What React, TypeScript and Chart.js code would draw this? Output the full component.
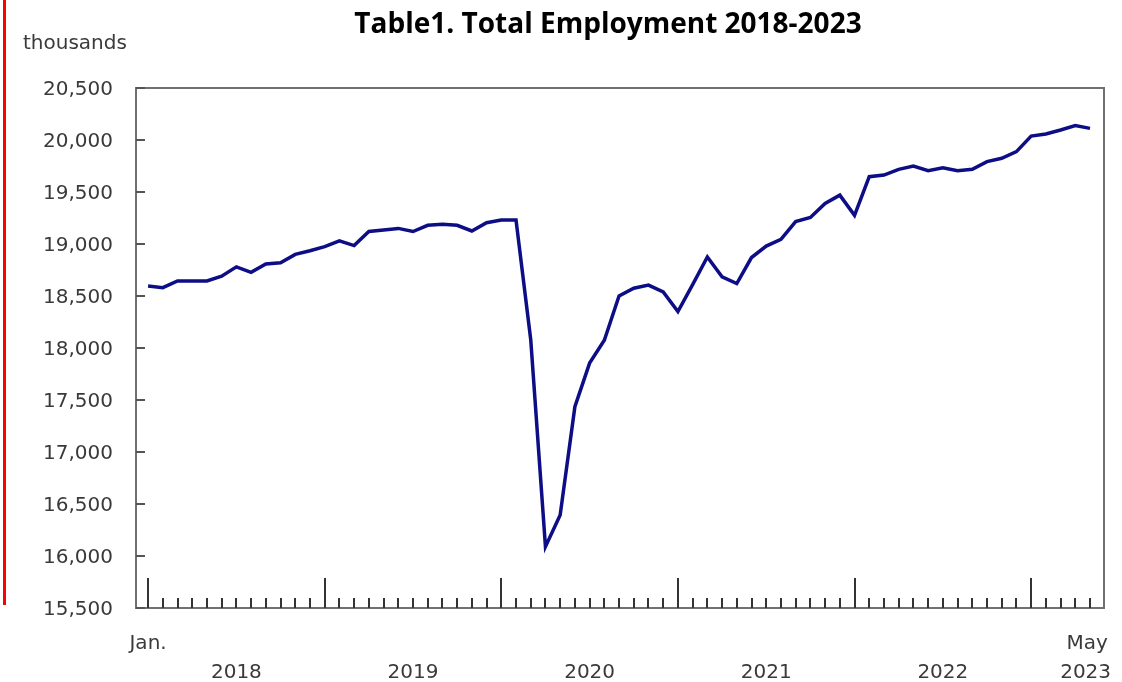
import { useEffect, useRef } from 'react';
import { Chart, registerables } from 'chart.js';

Chart.register(...registerables);

const years = ['2018', '2019', '2020', '2021', '2022', '2023'];
const monthNames = ['Jan.', 'Feb.', 'Mar.', 'Apr.', 'May', 'June', 'July', 'Aug.', 'Sept.', 'Oct.', 'Nov.', 'Dec.'];
const categories: string[] = [];
years.forEach((yr) => monthNames.forEach((m) => categories.push(m + ' ' + yr)));
categories.splice(65);

const employment2018 = [18596, 18580, 18645, 18645, 18645, 18690, 18780, 18728, 18808, 18820, 18900, 18935];
const employment2019 = [18975, 19030, 18985, 19120, 19135, 19150, 19120, 19180, 19190, 19180, 19125, 19205];
const employment2020 = [19230, 19230, 18080, 16090, 16395, 17435, 17855, 18075, 18500, 18575, 18605, 18540];
const employment2021 = [18350, 18610, 18875, 18685, 18620, 18870, 18980, 19045, 19215, 19255, 19390, 19470];
const employment2022 = [19275, 19647, 19663, 19718, 19750, 19705, 19734, 19705, 19718, 19792, 19824, 19888];
const employment2023 = [20038, 20058, 20096, 20138, 20112];

const employment = [
  ...employment2018,
  ...employment2019,
  ...employment2020,
  ...employment2021,
  ...employment2022,
  ...employment2023,
];

const yTicks = [15500, 16000, 16500, 17000, 17500, 18000, 18500, 19000, 19500, 20000, 20500];
const majorTickIndex = [0, 12, 24, 36, 48, 60];
const yearLabelIndex = [6, 18, 30, 42, 54, 63.7];
const topLabels = [
  { index: 0, text: 'Jan.' },
  { index: 63.8, text: 'May' },
];

const TITLE = 'Table1. Total Employment 2018-2023';
const UNIT = 'thousands';

const fmt = (v: number) => v.toLocaleString('en-US');

const decorPlugin = {
  id: 'decor',
  afterDraw(chart: any) {
    const ctx = chart.ctx;
    const { left, top, right, bottom } = chart.chartArea;
    const xs = chart.scales.x;
    const ys = chart.scales.y;
    ctx.save();

    // frame
    ctx.strokeStyle = '#707070';
    ctx.lineWidth = 2;
    ctx.strokeRect(left, top, right - left, bottom - top);

    // y ticks + labels
    ctx.strokeStyle = '#555';
    ctx.lineWidth = 2;
    ctx.fillStyle = '#3a3a3a';
    ctx.font = '20px "DejaVu Sans"';
    ctx.textAlign = 'right';
    ctx.textBaseline = 'middle';
    yTicks.forEach((v) => {
      const py = ys.getPixelForValue(v);
      ctx.beginPath();
      ctx.moveTo(left, py);
      ctx.lineTo(left + 9, py);
      ctx.stroke();
      ctx.fillText(fmt(v), left - 23, py + 2);
    });

    // x ticks
    ctx.strokeStyle = '#333';
    for (let i = 0; i < employment.length; i++) {
      const px = Math.round(xs.getPixelForValue(i));
      const major = majorTickIndex.includes(i);
      ctx.lineWidth = 2;
      ctx.beginPath();
      ctx.moveTo(px, bottom);
      ctx.lineTo(px, bottom - (major ? 30 : 10));
      ctx.stroke();
    }

    // x labels
    ctx.textAlign = 'center';
    ctx.textBaseline = 'alphabetic';
    ctx.fillStyle = '#3a3a3a';
    topLabels.forEach((l) => {
      ctx.fillText(l.text, xs.getPixelForValue(l.index), 649);
    });
    years.forEach((yr, k) => {
      ctx.fillText(yr, xs.getPixelForValue(yearLabelIndex[k]), 678);
    });

    // unit label
    ctx.textAlign = 'left';
    ctx.fillText(UNIT, 23, 49);

    // title
    ctx.fillStyle = '#000';
    ctx.font = 'bold 28px "Open Sans"';
    ctx.textAlign = 'center';
    ctx.fillText(TITLE, 608, 33);

    ctx.restore();
  },
};

export default function App() {
  const ref = useRef<HTMLCanvasElement | null>(null);

  useEffect(() => {
    if (!ref.current) return;
    const chart = new Chart(ref.current, {
      type: 'line',
      data: {
        labels: categories,
        datasets: [
          {
            label: 'Total employment',
            data: employment.map((v, i) => ({ x: i, y: v })),
            borderColor: '#0d0d85',
            borderWidth: 3.5,
            pointRadius: 0,
            tension: 0,
            fill: false,
          },
        ],
      },
      options: {
        responsive: false,
        animation: false,
        devicePixelRatio: 1,
        layout: { padding: { left: 136, top: 88, right: 18, bottom: 74 } },
        plugins: { legend: { display: false }, title: { display: false }, tooltip: { enabled: false } },
        scales: {
          x: { type: 'linear', display: false, min: -0.82, max: 64.95 },
          y: { type: 'linear', display: false, min: 15500, max: 20500 },
        },
      },
      plugins: [decorPlugin],
    });
    return () => chart.destroy();
  }, []);

  return (
    <div style={{ position: 'absolute', left: 0, top: 0, width: 1122, height: 682, background: '#fff' }}>
      <div style={{ position: 'absolute', left: 3, top: 0, width: 3, height: 605, background: '#f00' }} />
      <canvas ref={ref} width={1122} height={682} style={{ position: 'absolute', left: 0, top: 0 }} />
    </div>
  );
}
